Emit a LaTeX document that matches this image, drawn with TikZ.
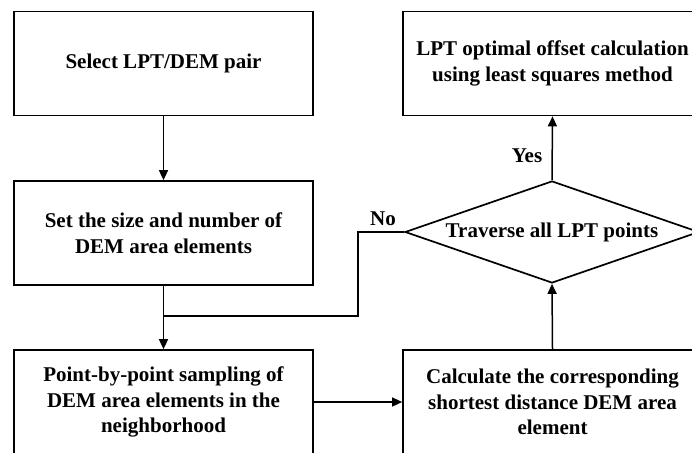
\documentclass[tikz,border=0pt]{standalone}
\usepackage{fontspec}
\setmainfont{Liberation Serif}
\usetikzlibrary{shapes.geometric,arrows.meta}
\begin{document}
\begin{tikzpicture}[x=1pt,y=1pt,
  every node/.style={font=\fontsize{21}{25.5}\selectfont\bfseries},
  stepbox/.style={draw, line width=1.7pt, rectangle, minimum width=299pt, minimum height=104pt, align=center, inner sep=0pt},
  decide/.style={draw, line width=1.7pt, diamond, shape aspect=2.88, minimum width=294pt, minimum height=102pt, inner sep=0pt, align=center},
  link/.style={line width=1.5pt, -{Triangle[length=10pt,width=9pt]}},
  plain/.style={line width=1.5pt},
  tag/.style={inner sep=0pt}]
\useasboundingbox (0,0) rectangle (692,-452);
\clip (0,0) rectangle (692,-452);

% process boxes
\node[stepbox] (sel)  at (163.5,-63.5) {Select LPT/DEM pair};
\node[stepbox] (setn) at (163.5,-233)  {Set the size and number of\\DEM area elements};
\node[stepbox] (samp) at (163.5,-402)  {Point-by-point sampling of\\DEM area elements in the\\neighborhood};
\node[stepbox] (lsq)  at (552.5,-63.5) {LPT optimal offset calculation\\using least squares method};
\node[stepbox] (calc) at (552.5,-402)  {Calculate the corresponding\\shortest distance DEM area\\element};

% decision
\node[decide] (trav) at (552,-232) {Traverse all LPT points};

% loop-back junction
\coordinate (j) at (163.5,-316);
\coordinate (k) at (358,-316);

% connectors
\draw[link] (sel.south) -- (setn.north);
\draw[link] (setn.south) -- (samp.north);
\draw[plain] (trav.west) -| (k) -- (j);
\draw[link] (samp.east) -- (calc.west);
\draw[link] (calc.north) -- (trav.south);
\draw[link] (trav.north) -- (lsq.south);

% branch labels
\node[tag] (yes) at (527,-156) {Yes};
\node[tag] (no)  at (383,-219) {No};
\end{tikzpicture}
\end{document}
